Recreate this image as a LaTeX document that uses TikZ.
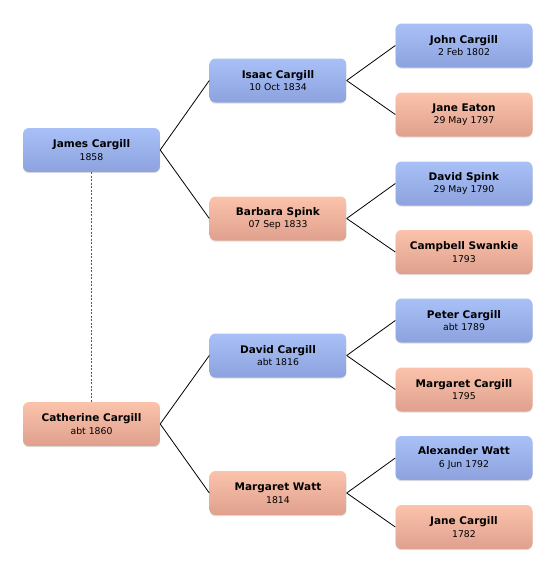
\documentclass[tikz,border=0pt]{standalone}
\usepackage{fontspec}
\setmainfont{DejaVu Sans}
\usetikzlibrary{shadows}
\definecolor{maletop}{HTML}{A9C0F7}
\definecolor{malebot}{HTML}{8DA2DE}
\definecolor{femtop}{HTML}{FBC3AC}
\definecolor{fembot}{HTML}{DFA08D}
\definecolor{linkgray}{HTML}{5A5A5A}
\newcommand{\dt}[1]{{\fontsize{9.3}{10}\selectfont #1}}

\begin{document}
\begin{tikzpicture}[x=1pt, y=-1pt,
  person/.style={rounded corners=6pt, minimum width=137pt, minimum height=44pt, align=center,
    inner sep=0pt, font=\fontsize{10.5}{12.5}\selectfont,
    drop shadow={opacity=0.25, shadow xshift=0pt, shadow yshift=-1.2pt}},
  male/.style={person, top color=maletop, bottom color=malebot},
  female/.style={person, top color=femtop, bottom color=fembot},
  link/.style={draw=black, line width=0.8pt}]
\useasboundingbox (0,0) rectangle (556,574);
% first generation
\node[male] (james) at (91.5,150) {\textbf{James Cargill}\\ \dt{1858}};
\node[female] (cath) at (91.5,424) {\textbf{Catherine Cargill}\\ \dt{abt 1860}};
% parents
\node[male] (isaac) at (278,80.5) {\textbf{Isaac Cargill}\\ \dt{10 Oct 1834}};
\node[female] (barb) at (278,218.5) {\textbf{Barbara Spink}\\ \dt{07 Sep 1833}};
\node[male] (david) at (278,355.5) {\textbf{David Cargill}\\ \dt{abt 1816}};
\node[female] (mwatt) at (278,493) {\textbf{Margaret Watt}\\ \dt{1814}};
% grandparents
\node[male] (john) at (464,45.5) {\textbf{John Cargill}\\ \dt{2 Feb 1802}};
\node[female] (jeaton) at (464,114.5) {\textbf{Jane Eaton}\\ \dt{29 May 1797}};
\node[male] (dspink) at (464,183.5) {\textbf{David Spink}\\ \dt{29 May 1790}};
\node[female] (cswan) at (464,252) {\textbf{Campbell Swankie}\\ \dt{1793}};
\node[male] (peter) at (464,320.5) {\textbf{Peter Cargill}\\ \dt{abt 1789}};
\node[female] (mcarg) at (464,389.5) {\textbf{Margaret Cargill}\\ \dt{1795}};
\node[male] (alex) at (464,458) {\textbf{Alexander Watt}\\ \dt{6 Jun 1792}};
\node[female] (jcarg) at (464,527) {\textbf{Jane Cargill}\\ \dt{1782}};
% links
\foreach \p/\c in {james/isaac, james/barb, cath/david, cath/mwatt,
  isaac/john, isaac/jeaton, barb/dspink, barb/cswan,
  david/peter, david/mcarg, mwatt/alex, mwatt/jcarg}
  \draw[link] (\p.east) -- (\c.west);
\draw[linkgray, line width=1.5pt, dash pattern=on 2pt off 1.5pt] (james.south) -- (cath.north);
\end{tikzpicture}
\end{document}
